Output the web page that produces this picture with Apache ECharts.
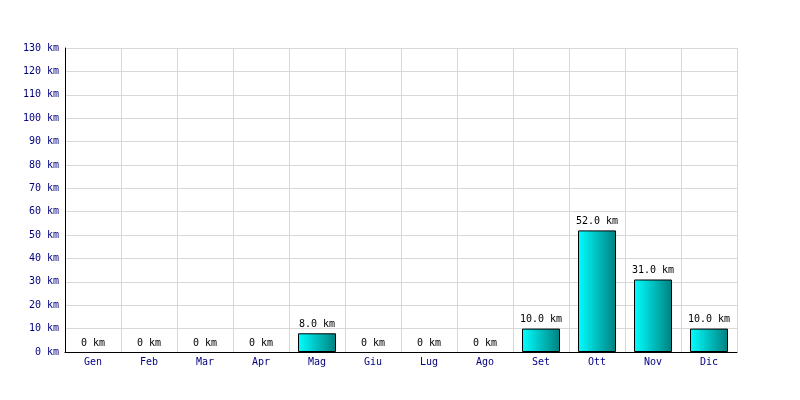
<!DOCTYPE html>
<html><head><meta charset="utf-8">
<script src="https://cdn.jsdelivr.net/npm/echarts@6/dist/echarts.min.js"></script>
<style>html,body{margin:0;padding:0;background:#fff}#c{width:800px;height:400px}</style>
</head><body><div id="c"></div>
<script>
const categories = ['Gen','Feb','Mar','Apr','Mag','Giu','Lug','Ago','Set','Ott','Nov','Dic'];
const values = [0,0,0,0,8,0,0,0,10,52,31,10];
const yMin = 0, yMax = 130, yStep = 10;
const font = 'DejaVu Sans Mono';
const chart = echarts.init(document.getElementById('c'), null, {renderer:'canvas'});
chart.setOption({
  animation:false,
  backgroundColor:'#fff',
  grid:{left:65,right:63,top:48,bottom:48,containLabel:false},
  xAxis:{type:'category',data:categories,boundaryGap:true,
    axisLine:{lineStyle:{color:'#000',width:1}},
    axisTick:{show:false},
    axisLabel:{color:'#000080',fontFamily:font,fontSize:10,margin:5},
    splitLine:{show:true,lineStyle:{color:'#d8d8d8',width:1}}},
  yAxis:{type:'value',min:yMin,max:yMax,interval:yStep,
    axisLine:{show:true,lineStyle:{color:'#000',width:1}},
    axisTick:{show:false},
    axisLabel:{color:'#000080',fontFamily:font,fontSize:10,margin:6,formatter:v=>v+' km'},
    splitLine:{show:true,lineStyle:{color:'#d8d8d8',width:1}}},
  series:[{type:'bar',barWidth:38,z:1,
    data:values.map(v=>v===0?{value:v,itemStyle:{borderWidth:0,opacity:0}}:v),
    itemStyle:{borderColor:'#000',borderWidth:1,
      color:new echarts.graphic.LinearGradient(0,0,1,0,[{offset:0,color:'#00ffff'},{offset:1,color:'#008080'}])},
    label:{show:true,position:'top',distance:4,color:'#000',fontFamily:font,fontSize:10,opacity:1,
      formatter:p=>p.value===0?'0 km':p.value.toFixed(1)+' km'}}]
});
</script></body></html>
